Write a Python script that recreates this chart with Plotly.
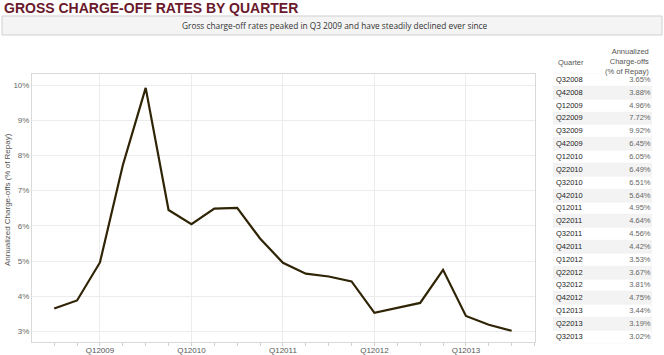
import plotly.graph_objects as go

quarters = ["Q32008", "Q42008", "Q12009", "Q22009", "Q32009", "Q42009",
            "Q12010", "Q22010", "Q32010", "Q42010", "Q12011", "Q22011",
            "Q32011", "Q42011", "Q12012", "Q22012", "Q32012", "Q42012",
            "Q12013", "Q22013", "Q32013"]
rates = [3.65, 3.88, 4.96, 7.72, 9.92, 6.45, 6.05, 6.49, 6.51, 5.64, 4.95,
         4.64, 4.56, 4.42, 3.53, 3.67, 3.81, 4.75, 3.44, 3.19, 3.02]
tick_labels = ["Q12009", "Q12010", "Q12011", "Q12012", "Q12013"]
y_ticks = [3, 4, 5, 6, 7, 8, 9, 10]
table_headers = ["Quarter", "Annualized<br>Charge-offs<br>(% of Repay)"]

W, H = 664, 355
def px(x):
    return x / W
def py(y):
    return 1 - y / H

xs = list(range(len(quarters)))
tick_pos = [quarters.index(t) for t in tick_labels]
rows = list(range(len(quarters)))
n = len(quarters)

fig = go.Figure()
fig.add_trace(go.Scatter(
    x=xs, y=rates, mode="lines",
    line=dict(color="#2f2405", width=2.2),
    hoverinfo="skip", showlegend=False,
))

# table: row backgrounds as horizontal bars on their own axes
row_fill = ["#ffffff" if i % 2 == 0 else "#f3f3f3" for i in rows]
fig.add_trace(go.Bar(
    x=[1] * n, y=rows, orientation="h", base=0, width=1,
    marker=dict(color=row_fill, line=dict(color="#ececec", width=0.5)),
    xaxis="x2", yaxis="y2", hoverinfo="skip", showlegend=False,
))
fig.add_trace(go.Scatter(
    x=[0.03] * n, y=rows, mode="text", text=quarters,
    textposition="middle right",
    textfont=dict(family="Liberation Sans, Arial", size=7.5, color="#222222"),
    xaxis="x2", yaxis="y2", hoverinfo="skip", showlegend=False,
))
fig.add_trace(go.Scatter(
    x=[0.985] * n, y=rows, mode="text", text=[f"{v:.2f}%" for v in rates],
    textposition="middle left",
    textfont=dict(family="Liberation Sans, Arial", size=7.5, color="#666666"),
    xaxis="x2", yaxis="y2", hoverinfo="skip", showlegend=False,
))

row_top, row_h = 73.6, 12.85

fig.update_layout(
    width=W, height=H,
    margin=dict(l=0, r=0, t=0, b=0),
    paper_bgcolor="white", plot_bgcolor="white",
    xaxis=dict(
        domain=[px(32), px(535)],
        range=[-0.97, 21.02],
        tickmode="array", tickvals=tick_pos, ticktext=tick_labels,
        showgrid=True, gridcolor="#ececec", gridwidth=1,
        showline=True, linecolor="#d9d9d9", linewidth=1, mirror=True,
        ticks="outside", ticklen=0, tickcolor="#d9d9d9",
        minor=dict(tickmode="linear", tick0=0, dtick=1, ticks="outside",
                   ticklen=3, tickcolor="#d0d0d0", showgrid=False),
        tickfont=dict(family="Liberation Sans, Arial", size=8, color="#555555"),
        zeroline=False, fixedrange=True,
    ),
    yaxis=dict(
        domain=[py(342), py(74.3)],
        range=[2.70, 10.305],
        tickvals=y_ticks, ticktext=[f"{v}%" for v in y_ticks],
        showgrid=True, gridcolor="#ececec", gridwidth=1,
        showline=True, linecolor="#d9d9d9", linewidth=1, mirror=True,
        ticks="",
        tickfont=dict(family="Liberation Sans, Arial", size=8, color="#666666"),
        zeroline=False, fixedrange=True,
    ),
    xaxis2=dict(domain=[px(553), px(652)], range=[0, 1], visible=False,
                anchor="y2", fixedrange=True),
    yaxis2=dict(domain=[py(row_top + row_h * n), py(row_top)],
                range=[n - 0.5, -0.5], visible=False, anchor="x2",
                fixedrange=True),
    bargap=0,
    shapes=[dict(type="rect", xref="paper", yref="paper",
                 x0=px(2), x1=px(662), y0=py(35), y1=py(16),
                 fillcolor="#f4f4f4", line=dict(color="#cfcfcf", width=1),
                 layer="below")],
    annotations=[
        dict(text="<b>GROSS CHARGE-OFF RATES BY QUARTER</b>",
             xref="paper", yref="paper", x=px(2), y=py(8), xanchor="left",
             yanchor="middle", showarrow=False,
             font=dict(family="Liberation Sans, Arial", size=14, color="#6a1a2c")),
        dict(text="Gross charge-off rates peaked in Q3 2009 and have steadily declined ever since",
             xref="paper", yref="paper", x=px(334.5), y=py(25.5), xanchor="center",
             yanchor="middle", showarrow=False,
             font=dict(family="Open Sans, Arial", size=8.3, color="#333333")),
        dict(text="Annualized Charge-offs (% of Repay)",
             xref="paper", yref="paper", x=px(7), y=py(200), xanchor="center",
             yanchor="middle", showarrow=False, textangle=-90,
             font=dict(family="Liberation Sans, Arial", size=8, color="#555555")),
        dict(text=table_headers[0],
             xref="paper", yref="paper", x=px(556), y=py(63), xanchor="left",
             yanchor="middle", showarrow=False,
             font=dict(family="Liberation Sans, Arial", size=7.5, color="#555555")),
        dict(text=table_headers[1], align="right",
             xref="paper", yref="paper", x=px(651), y=py(61), xanchor="right",
             yanchor="middle", showarrow=False,
             font=dict(family="Liberation Sans, Arial", size=7.5, color="#555555")),
    ],
)

fig.write_html("out.html")
